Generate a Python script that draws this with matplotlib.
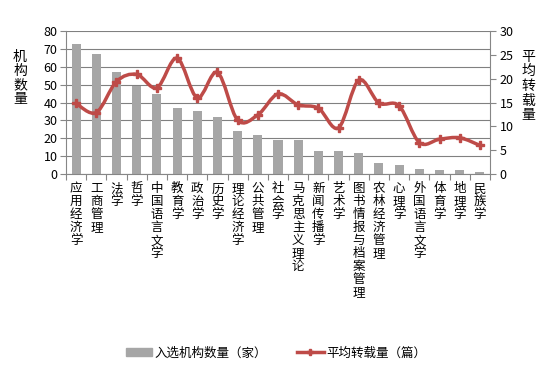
import numpy as np
import matplotlib.pyplot as plt
from matplotlib.path import Path
from matplotlib.patches import PathPatch
from matplotlib.lines import Line2D
from matplotlib.patches import Patch

plt.rcParams['font.family'] = ['Noto Sans CJK SC', 'DejaVu Sans']

# data
categories = ["应用经济学", "工商管理", "法学", "哲学", "中国语言文学", "教育学", "政治学",
              "历史学", "理论经济学", "公共管理", "社会学", "马克思主义理论", "新闻传播学",
              "艺术学", "图书情报与档案管理", "农林经济管理", "心理学", "外国语言文学",
              "体育学", "地理学", "民族学"]
counts = [73, 67, 57, 49, 45, 37, 35, 32, 24, 22, 19, 19, 13, 13, 12, 6, 5, 3, 2, 2, 1]
avg_reprint = [14.8, 12.9, 19.4, 20.9, 18.1, 24.3, 16.0, 21.3, 11.3, 12.4, 16.8, 14.5,
               13.8, 9.7, 19.7, 14.9, 14.3, 6.6, 7.3, 7.6, 6.0]

bar_color = '#A6A6A6'
line_color = '#BE4B48'
axis_color = '#868686'

fig = plt.figure(figsize=(5.54, 3.75), dpi=100)
ax = fig.add_axes([66 / 554, 1 - 174 / 375, (490 - 66) / 554, (174 - 31) / 375])
ax2 = ax.twinx()

x = np.arange(len(categories))
ax.bar(x, counts, width=0.45, color=bar_color, zorder=2)
ax.set_ylim(0, 80)
ax.set_yticks(range(0, 81, 10))
ax.set_xlim(-0.5, len(categories) - 0.5)
ax.grid(axis='y', color='#808080', linewidth=0.8, zorder=0)
ax.set_axisbelow(True)

# x ticks at category boundaries, labels stacked vertically
ax.set_xticks(np.arange(-0.5, len(categories), 1.0))
ax.set_xticklabels([])
ax.set_xticks(x, minor=True)
ax.set_xticklabels(["\n".join(c) for c in categories], minor=True, fontsize=9,
                   va='top', linespacing=1.0)
ax.tick_params(axis='x', which='major', length=4, color=axis_color, direction='out')
ax.tick_params(axis='x', which='minor', length=0, pad=6)
ax.tick_params(axis='y', length=4, color=axis_color, labelsize=9, pad=2)

# smooth line through points (Catmull-Rom as cubic Bezier)
ys = np.array(avg_reprint)
pts = np.column_stack([x, ys])
verts = [tuple(pts[0])]
codes = [Path.MOVETO]
n = len(pts)
for i in range(n - 1):
    p0 = pts[max(i - 1, 0)]
    p1 = pts[i]
    p2 = pts[i + 1]
    p3 = pts[min(i + 2, n - 1)]
    c1 = p1 + (p2 - p0) / 6
    c2 = p2 - (p3 - p1) / 6
    verts += [tuple(c1), tuple(c2), tuple(p2)]
    codes += [Path.CURVE4] * 3
ax2.add_patch(PathPatch(Path(verts, codes), facecolor='none', edgecolor=line_color,
                        linewidth=2.5, zorder=3))
ax2.plot(x, ys, linestyle='none', marker='P', markersize=6, color=line_color, zorder=4)
ax2.set_ylim(0, 30)
ax2.set_yticks(range(0, 31, 5))
ax2.tick_params(axis='y', length=4, color=axis_color, labelsize=9, pad=3)

for a in (ax, ax2):
    for s in a.spines.values():
        s.set_visible(False)
ax.spines['left'].set_visible(True)
ax.spines['left'].set_color(axis_color)
ax.spines['bottom'].set_visible(True)
ax.spines['bottom'].set_color(axis_color)
ax2.spines['right'].set_visible(True)
ax2.spines['right'].set_color(axis_color)

fig.text(20 / 554, 1 - 78 / 375, "\n".join("机构数量"), fontsize=10, ha='center',
         va='center', linespacing=1.0)
fig.text(528 / 554, 1 - 86 / 375, "\n".join("平均转载量"), fontsize=10, ha='center',
         va='center', linespacing=1.05)

handles = [Patch(color=bar_color), Line2D([], [], color=line_color, linewidth=2.5,
                                           marker='P', markersize=5)]
fig.legend(handles, ["入选机构数量（家）", "平均转载量（篇）"], loc='center',
           bbox_to_anchor=(276 / 554, 1 - 353 / 375), ncol=2, frameon=False, fontsize=9,
           handlelength=2.1, handleheight=0.6, columnspacing=2.4, handletextpad=0.2)

fig.savefig('out.png', dpi=100)
